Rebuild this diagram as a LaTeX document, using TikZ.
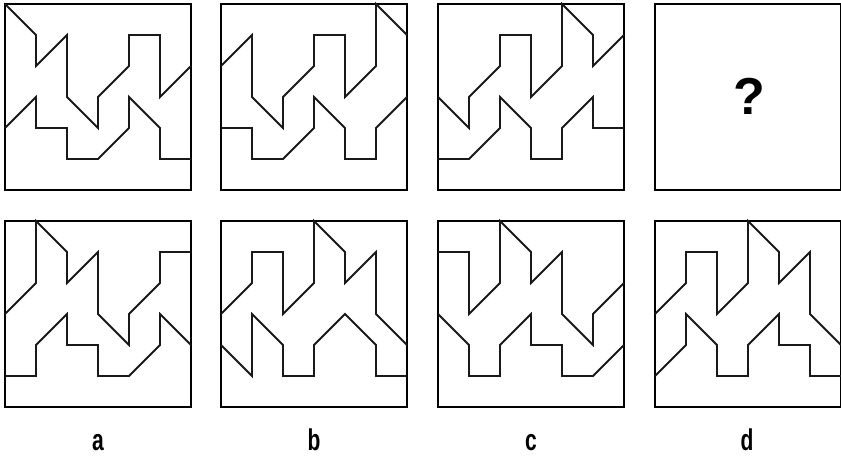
\documentclass[tikz,border=0pt]{standalone}
\usepackage{fontspec}
\setmainfont{Liberation Sans}
\begin{document}
\begin{tikzpicture}[x=1pt,y=-1pt,
  frame/.style={draw=black,line width=1.9pt},
  fig/.style={draw=black!90,line width=1.8pt,line join=miter},
  lbl/.style={font=\bfseries\fontsize{30}{30}\selectfont,xscale=0.7,inner sep=0pt,anchor=base},
  grid/.style={x=31pt,y=-31pt}]
\useasboundingbox (0,0) rectangle (841,456);
\fill[white] (0,0) rectangle (841,456);
% --- top row ---
\begin{scope}[shift={(5pt,-4pt)},grid]
  \draw[frame] (0,0) rectangle (6,6);
  \draw[fig] (0,0)--(1,1)--(1,2)--(2,1)--(2,3)--(3,4)--(3,3)--(4,2)--(4,1)--(5,1)--(5,3)--(6,2);
  \draw[fig] (0,4)--(1,3)--(1,4)--(2,4)--(2,5)--(3,5)--(4,4)--(4,3)--(5,4)--(5,5)--(6,5);
\end{scope}
\begin{scope}[shift={(221pt,-4pt)},grid]
  \draw[frame] (0,0) rectangle (6,6);
  \draw[fig] (0,2)--(1,1)--(1,3)--(2,4)--(2,3)--(3,2)--(3,1)--(4,1)--(4,3)--(5,2)--(5,0)--(6,1);
  \draw[fig] (0,4)--(1,4)--(1,5)--(2,5)--(3,4)--(3,3)--(4,4)--(4,5)--(5,5)--(5,4)--(6,3);
\end{scope}
\begin{scope}[shift={(438pt,-4pt)},grid]
  \draw[frame] (0,0) rectangle (6,6);
  \draw[fig] (0,3)--(1,4)--(1,3)--(2,2)--(2,1)--(3,1)--(3,3)--(4,2)--(4,0)--(5,1)--(5,2)--(6,1);
  \draw[fig] (0,5)--(1,5)--(2,4)--(2,3)--(3,4)--(3,5)--(4,5)--(4,4)--(5,3)--(5,4)--(6,4);
\end{scope}
\begin{scope}[shift={(655pt,-4pt)},grid]
  \draw[frame] (0,0) rectangle (6,6);
  \node[font=\bfseries\fontsize{52}{52}\selectfont,inner sep=0pt] (q) at (3.05,2.98) {?};
\end{scope}
% --- bottom row ---
\begin{scope}[shift={(5pt,-221pt)},grid]
  \draw[frame] (0,0) rectangle (6,6);
  \draw[fig] (0,3)--(1,2)--(1,0)--(2,1)--(2,2)--(3,1)--(3,3)--(4,4)--(4,3)--(5,2)--(5,1)--(6,1);
  \draw[fig] (0,5)--(1,5)--(1,4)--(2,3)--(2,4)--(3,4)--(3,5)--(4,5)--(5,4)--(5,3)--(6,4);
\end{scope}
\begin{scope}[shift={(221pt,-221pt)},grid]
  \draw[frame] (0,0) rectangle (6,6);
  \draw[fig] (0,3)--(1,2)--(1,1)--(2,1)--(2,3)--(3,2)--(3,0)--(4,1)--(4,2)--(5,1)--(5,3)--(6,4);
  \draw[fig] (0,4)--(1,5)--(1,3)--(2,4)--(2,5)--(3,5)--(3,4)--(4,3)--(5,4)--(5,5)--(6,5);
\end{scope}
\begin{scope}[shift={(438pt,-221pt)},grid]
  \draw[frame] (0,0) rectangle (6,6);
  \draw[fig] (0,1)--(1,1)--(1,3)--(2,2)--(2,0)--(3,1)--(3,2)--(4,1)--(4,3)--(5,4)--(5,3)--(6,2);
  \draw[fig] (0,3)--(1,4)--(1,5)--(2,5)--(2,4)--(3,3)--(3,4)--(4,4)--(4,5)--(5,5)--(6,4);
\end{scope}
\begin{scope}[shift={(655pt,-221pt)},grid]
  \draw[frame] (0,0) rectangle (6,6);
  \draw[fig] (0,3)--(1,2)--(1,1)--(2,1)--(2,3)--(3,2)--(3,0)--(4,1)--(4,2)--(5,1)--(5,3)--(6,4);
  \draw[fig] (0,5)--(1,4)--(1,3)--(2,4)--(2,5)--(3,5)--(3,4)--(4,3)--(4,4)--(5,4)--(5,5)--(6,5);
\end{scope}
% --- labels ---
\node[lbl] (la) at (98,450) {a};
\node[lbl] (lb) at (314,450) {b};
\node[lbl] (lc) at (531,450) {c};
\node[lbl] (ld) at (747,450) {d};
\end{tikzpicture}
\end{document}
